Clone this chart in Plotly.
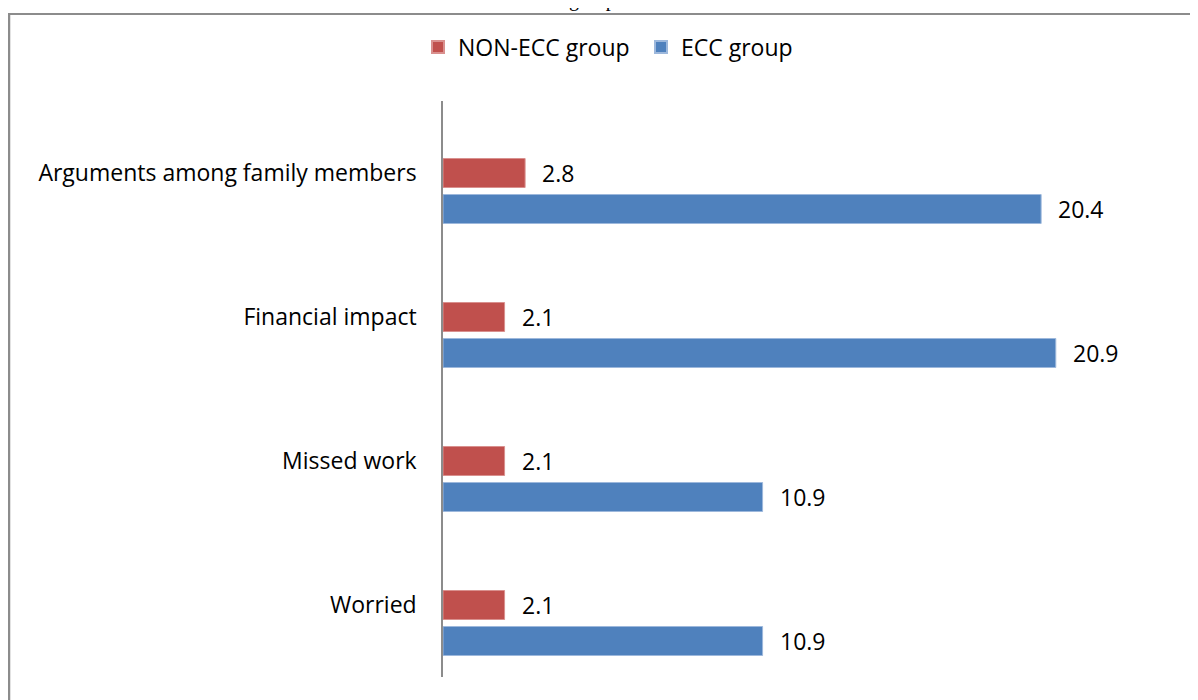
import plotly.graph_objects as go

categories = ["Arguments among family members", "Financial impact", "Missed work", "Worried"]
non_ecc = [2.8, 2.1, 2.1, 2.1]
ecc = [20.4, 20.9, 10.9, 10.9]
series_names = ["NON-ECC group", "ECC group"]
colors = ["#C0504D", "#4F81BD"]
edge_colors = ["#D9908E", "#9DB8DC"]

# the page body adds an 8px offset, so the figure is laid out in page coords minus 8
W, H = 1190, 692
L, R, T, B = 435, 22, 93, 23
pw, ph = W - L - R, H - T - B

FONT = "Open Sans"
FS = 23

bar_w = 29 / 144
offsets = [-bar_w / 2, -bar_w / 2 + 36 / 144]

fig = go.Figure()
for name, vals, c, ec, off in zip(series_names, [non_ecc, ecc], colors, edge_colors, offsets):
    fig.add_trace(go.Bar(
        y=categories, x=vals, orientation="h", name=name,
        marker=dict(color=c, line=dict(color=ec, width=1)),
        width=bar_w, offset=off, hoverinfo="x+y",
    ))

annotations = []
for vals, shift in [(non_ecc, 0), (ecc, -36)]:
    for cat, v in zip(categories, vals):
        annotations.append(dict(
            x=v, y=cat, xref="x", yref="y", text=f"{v}", showarrow=False,
            xanchor="left", yanchor="middle", xshift=15, yshift=shift,
            font=dict(family=FONT, size=FS, color="#000000"),
        ))

# cropped title remnant at top
annotations.append(dict(
    x=(590 - L) / pw, y=(H - B - 5) / ph, xref="paper", yref="paper",
    text="groups.", showarrow=False, xanchor="center", yanchor="bottom",
    font=dict(family="Liberation Serif", size=20, color="#000000"),
))

shapes = [
    dict(type="line", xref="paper", yref="paper",
         x0=(1 - L) / pw, x1=(1 - L) / pw, y0=(H - B - 6) / ph, y1=(H - B - 700) / ph,
         line=dict(color="#8C8C8C", width=2.5)),
    dict(type="line", xref="paper", yref="paper",
         x0=(0 - L) / pw, x1=(W + 5 - L) / pw, y0=(H - B - 6) / ph, y1=(H - B - 6) / ph,
         line=dict(color="#8C8C8C", width=2)),
]

fig.update_layout(
    width=W, height=H,
    margin=dict(l=L, r=R, t=T, b=B, pad=0),
    paper_bgcolor="white", plot_bgcolor="white",
    font=dict(family=FONT, size=FS, color="#000000"),
    barmode="group",
    showlegend=True,
    legend=dict(orientation="h", x=(410 - L) / pw, xanchor="left",
                y=(H - B - 39) / ph, yanchor="middle", entrywidth=178,
                font=dict(family=FONT, size=FS), itemsizing="constant",
                bgcolor="rgba(0,0,0,0)"),
    xaxis=dict(range=[0, 25], showgrid=False, zeroline=False, showticklabels=False,
               showline=False, ticks=""),
    yaxis=dict(categoryorder="array", categoryarray=categories, range=[3.5, -0.5],
               showgrid=False, zeroline=False, showline=True, linecolor="#8C8C8C",
               linewidth=1.5, ticks="", ticklabelstandoff=20,
               tickfont=dict(family=FONT, size=FS, color="#000000")),
    annotations=annotations,
    shapes=shapes,
)

fig.write_html("out.html")
